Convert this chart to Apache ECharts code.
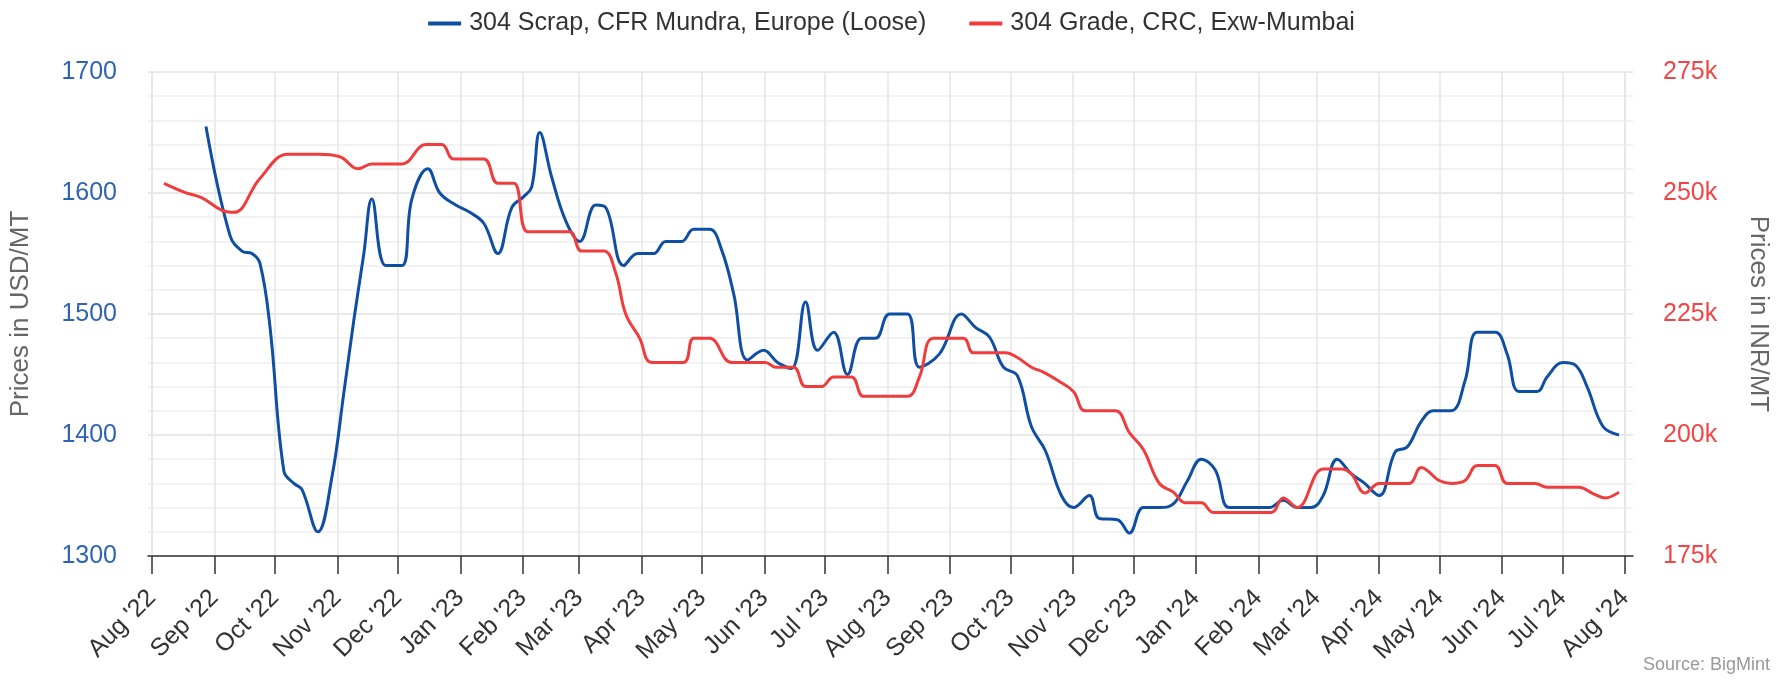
<!DOCTYPE html>
<html>
<head>
<meta charset="utf-8">
<title>304 Scrap vs 304 CRC</title>
<script src="https://cdn.jsdelivr.net/npm/echarts@6/dist/echarts.min.js"></script>
<style>
  html, body { margin: 0; padding: 0; background: #fff; }
  #chart { width: 1783px; height: 681px; }
</style>
</head>
<body>
<div id="chart"></div>
<script>
// weekly prices
var scrapDates = [
    '2022-08-22', '2022-09-03', '2022-09-09', '2022-09-14', '2022-09-18', '2022-09-23', '2022-09-30',
    '2022-10-05', '2022-10-09', '2022-10-17', '2022-10-24', '2022-10-30', '2022-11-04', '2022-11-09',
    '2022-11-13', '2022-11-20', '2022-11-28', '2022-12-03', '2022-12-11', '2022-12-17', '2022-12-25',
    '2023-01-01', '2023-01-08', '2023-01-15', '2023-01-22', '2023-01-28', '2023-02-01', '2023-02-05',
    '2023-02-11', '2023-02-18', '2023-02-25', '2023-03-05', '2023-03-10', '2023-03-19', '2023-03-26',
    '2023-04-03', '2023-04-09', '2023-04-17', '2023-04-23', '2023-05-01', '2023-05-07', '2023-05-13',
    '2023-05-20', '2023-05-28', '2023-06-04', '2023-06-11', '2023-06-18', '2023-06-24', '2023-07-02',
    '2023-07-09', '2023-07-16', '2023-07-23', '2023-07-30', '2023-08-08', '2023-08-14', '2023-08-24',
    '2023-09-04', '2023-09-11', '2023-09-18', '2023-09-25', '2023-10-02', '2023-10-09', '2023-10-16',
    '2023-10-24', '2023-10-30', '2023-11-07', '2023-11-12', '2023-11-21', '2023-11-27', '2023-12-04',
    '2023-12-12', '2023-12-19', '2023-12-26', '2024-01-02', '2024-01-09', '2024-01-16', '2024-01-26',
    '2024-02-05', '2024-02-12', '2024-02-19', '2024-02-26', '2024-03-03', '2024-03-10', '2024-03-17',
    '2024-03-23', '2024-03-31', '2024-04-08', '2024-04-14', '2024-04-21', '2024-04-27', '2024-05-06',
    '2024-05-13', '2024-05-19', '2024-05-28', '2024-06-03', '2024-06-09', '2024-06-18', '2024-06-23',
    '2024-07-01', '2024-07-07', '2024-07-13', '2024-07-21', '2024-07-29'
];
var scrapPrices = [
    1655, 1565, 1552, 1550, 1542, 1490, 1370,
    1360, 1355, 1320, 1365, 1435, 1495, 1550,
    1595, 1540, 1540, 1595, 1620, 1600, 1590,
    1584, 1575, 1550, 1588, 1597, 1605, 1650,
    1613, 1577, 1560, 1590, 1588, 1540, 1550,
    1550, 1560, 1560, 1570, 1570, 1553, 1517,
    1462, 1470, 1460, 1455, 1510, 1470, 1485,
    1450, 1480, 1480, 1500, 1500, 1456, 1467,
    1500, 1489, 1481, 1456, 1449, 1407, 1387,
    1350, 1340, 1350, 1331, 1330, 1319, 1340,
    1340, 1343, 1362, 1380, 1371, 1340, 1340,
    1340, 1346, 1340, 1340, 1350, 1380, 1368,
    1361, 1350, 1386, 1390, 1411, 1420, 1420,
    1445, 1485, 1485, 1467, 1436, 1436, 1448,
    1460, 1458, 1440, 1407, 1400
];

var crcDates = [
    '2022-08-01', '2022-08-11', '2022-08-20', '2022-08-30', '2022-09-05', '2022-09-18', '2022-10-02',
    '2022-10-17', '2022-10-28', '2022-11-06', '2022-11-13', '2022-11-28', '2022-12-10', '2022-12-18',
    '2022-12-24', '2023-01-08', '2023-01-15', '2023-01-23', '2023-01-30', '2023-02-10', '2023-02-20',
    '2023-02-26', '2023-03-09', '2023-03-15', '2023-03-20', '2023-03-27', '2023-04-02', '2023-04-18',
    '2023-04-23', '2023-05-01', '2023-05-12', '2023-05-29', '2023-06-03', '2023-06-12', '2023-06-18',
    '2023-06-26', '2023-07-02', '2023-07-11', '2023-07-17', '2023-07-27', '2023-08-08', '2023-08-14',
    '2023-08-21', '2023-09-05', '2023-09-10', '2023-09-26', '2023-10-02', '2023-10-09', '2023-10-15',
    '2023-10-22', '2023-10-30', '2023-11-05', '2023-11-20', '2023-11-27', '2023-12-04', '2023-12-12',
    '2023-12-19', '2023-12-25', '2024-01-02', '2024-01-08', '2024-01-22', '2024-02-06', '2024-02-12',
    '2024-02-19', '2024-03-03', '2024-03-12', '2024-03-17', '2024-03-24', '2024-03-31', '2024-04-15',
    '2024-04-21', '2024-04-30', '2024-05-06', '2024-05-13', '2024-05-19', '2024-05-28', '2024-06-03',
    '2024-06-17', '2024-06-23', '2024-07-09', '2024-07-16', '2024-07-22', '2024-07-29'
];
var crcPrices = [
    252000, 250200, 249000, 246400, 246000, 253000, 258000,
    258000, 257500, 255000, 256000, 256000, 260000, 260000,
    257000, 257000, 252000, 252000, 242000, 242000, 242000,
    238000, 238000, 233500, 225000, 220000, 215000, 215000,
    220000, 220000, 215000, 215000, 214000, 214000, 210000,
    210000, 212000, 212000, 208000, 208000, 208000, 212000,
    220000, 220000, 217000, 217000, 216000, 214000, 213000,
    211300, 209000, 205000, 205000, 200500, 197000, 190000,
    188200, 186000, 186000, 184000, 184000, 184000, 187000,
    185000, 193000, 193000, 192000, 188000, 190000, 190000,
    193300, 190600, 190000, 190600, 193700, 193700, 190000,
    190000, 189200, 189200, 187900, 187000, 188200
];

var monthNames = ['Jan', 'Feb', 'Mar', 'Apr', 'May', 'Jun', 'Jul', 'Aug', 'Sep', 'Oct', 'Nov', 'Dec'];

var seriesNames = ['304 Scrap, CFR Mundra, Europe (Loose)', '304 Grade, CRC, Exw-Mumbai'];

function zip(dates, values) {
    var out = [];
    for (var i = 0; i < dates.length; i++) {
        out.push([dates[i], values[i]]);
    }
    return out;
}

var DAY = 24 * 3600 * 1000;
var font = 'Liberation Sans, Arial, Helvetica, sans-serif';

var chart = echarts.init(document.getElementById('chart'), null, { renderer: 'canvas' });

var option = {
    animation: false,
    backgroundColor: '#ffffff',
    textStyle: { fontFamily: font },
    title: {
        text: 'Source: BigMint',
        right: 8,
        bottom: 2,
        textStyle: { fontSize: 18, color: '#999999', fontWeight: 'normal', fontFamily: font }
    },
    legend: {
        top: 6,
        left: 'center',
        icon: 'rect',
        itemWidth: 33,
        itemHeight: 4,
        itemGap: 43,
        textStyle: { fontSize: 25, color: '#333333', padding: [0, 0, 0, 3] },
        data: seriesNames
    },
    // grid 0 holds the data (plot area padded a few days), grid 1 holds the month ticks
    grid: [
        { left: 136, right: 150, top: 72, bottom: 125 },
        { left: 152, right: 158, top: 72, bottom: 125 }
    ],
    xAxis: [
        {
            type: 'time',
            gridIndex: 0,
            min: new Date(2022, 6, 24).getTime(),
            max: new Date(2024, 7, 5).getTime(),
            axisLine: { show: true, lineStyle: { color: '#333333', width: 1.5 } },
            axisTick: { show: false },
            axisLabel: { show: false },
            splitLine: { show: false }
        },
        {
            type: 'time',
            gridIndex: 1,
            min: new Date(2022, 7, 1).getTime(),
            max: new Date(2024, 7, 1).getTime(),
            minInterval: 32 * DAY,
            maxInterval: 32 * DAY,
            axisLine: { show: false },
            axisTick: { show: true, length: 18, lineStyle: { color: '#333333', width: 1.5 } },
            axisLabel: {
                rotate: 45,
                margin: 38,
                fontSize: 25,
                color: '#333333',
                hideOverlap: false,
                formatter: function (value) {
                    var d = new Date(value);
                    if (d.getDate() !== 1) { return ''; }
                    return monthNames[d.getMonth()] + " '" + String(d.getFullYear()).slice(2);
                }
            },
            splitLine: { show: true, lineStyle: { color: '#e6e6e6', width: 1.5 } }
        }
    ],
    yAxis: [
        {
            type: 'value',
            gridIndex: 0,
            position: 'left',
            min: 1300,
            max: 1700,
            interval: 100,
            name: 'Prices in USD/MT',
            nameLocation: 'middle',
            nameRotate: 90,
            nameGap: 114,
            nameTextStyle: { color: '#666666', fontSize: 26 },
            axisLine: { show: false },
            axisTick: { show: false },
            axisLabel: {
                color: '#2E63B6',
                fontSize: 25,
                margin: 31,
                padding: [10, 0, 0, 0],
                formatter: function (v) { return String(v); }
            },
            splitLine: { lineStyle: { color: '#e2e2e2', width: 1.5 } },
            minorTick: { show: false, splitNumber: 5 },
            minorSplitLine: { show: true, lineStyle: { color: '#eeeeee', width: 1.5 } }
        },
        {
            type: 'value',
            gridIndex: 0,
            position: 'right',
            min: 175000,
            max: 275000,
            interval: 25000,
            name: 'Prices in INR/MT',
            nameLocation: 'middle',
            nameRotate: -90,
            nameGap: 112,
            nameTextStyle: { color: '#666666', fontSize: 26 },
            axisLine: { show: false },
            axisTick: { show: false },
            axisLabel: {
                color: '#F24545',
                fontSize: 25,
                margin: 30,
                padding: [10, 0, 0, 0],
                formatter: function (v) { return (v / 1000) + 'k'; }
            },
            splitLine: { show: false }
        },
        { type: 'value', gridIndex: 1, show: false }
    ],
    series: [
        {
            name: seriesNames[0],
            type: 'line',
            xAxisIndex: 0,
            yAxisIndex: 0,
            smooth: 0.4,
            showSymbol: false,
            color: '#0E4FA3',
            lineStyle: { width: 3, color: '#0E4FA3' },
            data: zip(scrapDates, scrapPrices)
        },
        {
            name: seriesNames[1],
            type: 'line',
            xAxisIndex: 0,
            yAxisIndex: 1,
            smooth: 0.4,
            showSymbol: false,
            color: '#F03C3C',
            lineStyle: { width: 3, color: '#F03C3C' },
            data: zip(crcDates, crcPrices)
        }
    ]
};

chart.setOption(option);
</script>
</body>
</html>
